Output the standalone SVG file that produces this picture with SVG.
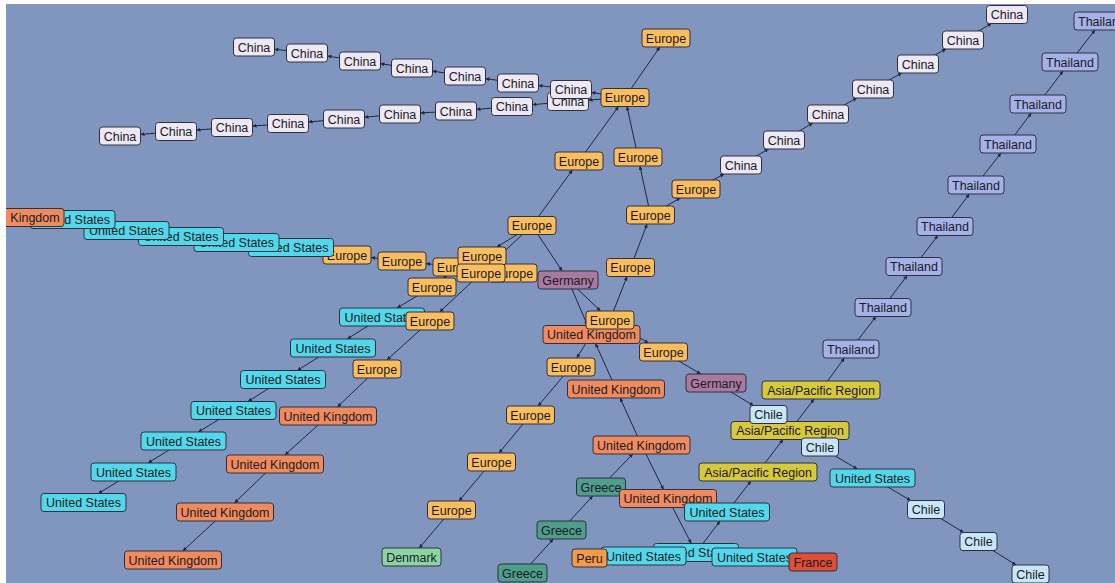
<svg xmlns="http://www.w3.org/2000/svg" width="1115" height="583" viewBox="0 0 1115 583">
<style>
.bg{fill:#8096be}
.node rect{stroke:#2e3040;stroke-width:1}
.node text{font-family:"Liberation Sans",Arial,sans-serif;font-size:12.5px;fill:#1a1a24;text-anchor:middle}
.china rect{fill:#eee8f5}
.europe rect{fill:#fbbe5f}
.us rect{fill:#52d8ea}
.uk rect{fill:#ef8b5f}
.germany rect{fill:#a97a9f}
.thai rect{fill:#a6b1e8}
.asia rect{fill:#d8c83c}
.chile rect{fill:#c8e6f8}
.greece rect{fill:#4f9d8b}
.denmark rect{fill:#8ad6a2}
.peru rect{fill:#f59a48}
.france rect{fill:#de4f35}
#edges line{stroke:#1e2640;stroke-width:1;marker-end:url(#ah)}
</style>
<defs>
<clipPath id="cv"><rect x="6" y="4" width="1109" height="579"/></clipPath>
<marker id="ah" viewBox="0 0 6 6" refX="6" refY="3" markerWidth="4" markerHeight="4" markerUnits="userSpaceOnUse" orient="auto"><path d="M0,0 L6,3 L0,6 z" fill="#1e2640"/></marker>
</defs>
<rect width="1115" height="583" fill="#ffffff"/>
<rect class="bg" x="6" y="4" width="1109" height="579"/>
<g clip-path="url(#cv)">
<g id="edges">
<line x1="625" y1="97.5" x2="591.5" y2="92.5"/>
<line x1="571" y1="89.5" x2="538.5" y2="85.5"/>
<line x1="518" y1="83" x2="485.5" y2="78.7"/>
<line x1="465" y1="76" x2="432.5" y2="71.1"/>
<line x1="412" y1="68" x2="380.5" y2="63.8"/>
<line x1="360" y1="61" x2="327.5" y2="56.1"/>
<line x1="307" y1="53" x2="274.5" y2="49.3"/>
<line x1="625" y1="97.5" x2="588.5" y2="100.1"/>
<line x1="568" y1="101.5" x2="532.5" y2="104.7"/>
<line x1="512" y1="106.5" x2="476.5" y2="109.4"/>
<line x1="456" y1="111" x2="420.5" y2="112.9"/>
<line x1="400" y1="114" x2="364.5" y2="117.2"/>
<line x1="344" y1="119" x2="308.5" y2="121.9"/>
<line x1="288" y1="123.5" x2="252.5" y2="126"/>
<line x1="232" y1="127.5" x2="196.5" y2="130"/>
<line x1="176" y1="131.5" x2="140.5" y2="134.4"/>
<line x1="625" y1="97.5" x2="659.8" y2="47"/>
<line x1="579" y1="161" x2="618.5" y2="106.5"/>
<line x1="638" y1="157" x2="627" y2="106.5"/>
<line x1="650.5" y1="215" x2="639.9" y2="166"/>
<line x1="630.5" y1="267.5" x2="647.1" y2="224"/>
<line x1="610" y1="320" x2="627" y2="276.5"/>
<line x1="650.5" y1="215" x2="680.3" y2="198"/>
<line x1="696" y1="189" x2="724.1" y2="174"/>
<line x1="741" y1="165" x2="768.5" y2="149"/>
<line x1="784" y1="140" x2="812.8" y2="123"/>
<line x1="828" y1="114" x2="856.8" y2="98"/>
<line x1="873" y1="89" x2="901.8" y2="73"/>
<line x1="918" y1="64" x2="946.1" y2="49"/>
<line x1="963" y1="40" x2="991.5" y2="23.5"/>
<line x1="532" y1="225.5" x2="572.4" y2="170"/>
<line x1="532" y1="225.5" x2="496.8" y2="247"/>
<line x1="532" y1="225.5" x2="562.1" y2="271"/>
<line x1="532" y1="225.5" x2="439.6" y2="312"/>
<line x1="430" y1="321" x2="386.9" y2="360"/>
<line x1="377" y1="369" x2="337.4" y2="407"/>
<line x1="328" y1="416" x2="284.9" y2="455"/>
<line x1="275" y1="464" x2="234.4" y2="503"/>
<line x1="225" y1="512" x2="182.75" y2="551"/>
<line x1="432" y1="287" x2="397" y2="308"/>
<line x1="382" y1="317" x2="347.2" y2="339"/>
<line x1="333" y1="348" x2="297.3" y2="370.5"/>
<line x1="283" y1="379.5" x2="247.9" y2="401.5"/>
<line x1="233.5" y1="410.5" x2="198.3" y2="432"/>
<line x1="183.5" y1="441" x2="148" y2="463"/>
<line x1="133.5" y1="472" x2="98.3" y2="493.5"/>
<line x1="482" y1="256" x2="477.5" y2="258"/>
<line x1="457" y1="267" x2="426" y2="263.6"/>
<line x1="402" y1="261" x2="371" y2="257.6"/>
<line x1="347" y1="255" x2="333.5" y2="253.2"/>
<line x1="291" y1="247.5" x2="279" y2="246.4"/>
<line x1="236.5" y1="242.5" x2="223.5" y2="241.1"/>
<line x1="181" y1="236.5" x2="169" y2="235.2"/>
<line x1="126.5" y1="230.5" x2="115" y2="228.2"/>
<line x1="72.5" y1="219.5" x2="64" y2="219.1"/>
<line x1="457" y1="267" x2="443.25" y2="278"/>
<line x1="482" y1="256" x2="481.5" y2="264"/>
<line x1="481" y1="273" x2="489" y2="273"/>
<line x1="568" y1="280" x2="600.6" y2="311"/>
<line x1="568" y1="280" x2="587.6" y2="325.5"/>
<line x1="610" y1="320" x2="648.5" y2="343"/>
<line x1="663.5" y1="352" x2="700.8" y2="374"/>
<line x1="716" y1="383" x2="753.5" y2="405.5"/>
<line x1="768.5" y1="414.5" x2="805.7" y2="438"/>
<line x1="820" y1="447" x2="857.3" y2="469"/>
<line x1="872.5" y1="478" x2="910.7" y2="500.5"/>
<line x1="926" y1="509.5" x2="963.7" y2="532.5"/>
<line x1="978.5" y1="541.5" x2="1016.1" y2="565"/>
<line x1="851" y1="349" x2="876.1" y2="316.5"/>
<line x1="883" y1="307.5" x2="907.2" y2="275.5"/>
<line x1="914" y1="266.5" x2="938" y2="235.5"/>
<line x1="945" y1="226.5" x2="969.3" y2="194"/>
<line x1="976" y1="185" x2="1001" y2="153"/>
<line x1="1008" y1="144" x2="1031.25" y2="113"/>
<line x1="1038" y1="104" x2="1063.1" y2="71"/>
<line x1="1070" y1="62" x2="1095" y2="30"/>
<line x1="821" y1="390" x2="844.4" y2="358"/>
<line x1="790" y1="430.5" x2="814.1" y2="399"/>
<line x1="758" y1="472" x2="783.1" y2="439.5"/>
<line x1="727" y1="512" x2="751" y2="481"/>
<line x1="696" y1="552.5" x2="720.1" y2="521"/>
<line x1="591.5" y1="334.5" x2="576.7" y2="358"/>
<line x1="616" y1="389" x2="595.5" y2="343.5"/>
<line x1="641.5" y1="445" x2="620.1" y2="398"/>
<line x1="601" y1="487" x2="632.8" y2="454"/>
<line x1="641.5" y1="445" x2="663.5" y2="489.5"/>
<line x1="561.5" y1="530" x2="592.7" y2="496"/>
<line x1="522.5" y1="573" x2="553.3" y2="539"/>
<line x1="668" y1="498.5" x2="691.3" y2="543.5"/>
<line x1="571" y1="367" x2="538.1" y2="406"/>
<line x1="530.5" y1="415" x2="499" y2="453"/>
<line x1="491.5" y1="462" x2="459" y2="501"/>
<line x1="451.5" y1="510" x2="419.2" y2="548"/>
<line x1="696" y1="552.5" x2="686" y2="553.2"/>
<line x1="696" y1="552.5" x2="712" y2="553.7"/>
<line x1="643.5" y1="556" x2="607" y2="557.4"/>
<line x1="754.5" y1="557" x2="789" y2="560"/>
</g>
<g id="nodes">
<g id="c1" class="node china"><rect x="233.5" y="38" width="41" height="18" rx="3"/><text x="254" y="51.5">China</text></g>
<g id="c2" class="node china"><rect x="286.5" y="44" width="41" height="18" rx="3"/><text x="307" y="57.5">China</text></g>
<g id="c3" class="node china"><rect x="339.5" y="52" width="41" height="18" rx="3"/><text x="360" y="65.5">China</text></g>
<g id="c4" class="node china"><rect x="391.5" y="59" width="41" height="18" rx="3"/><text x="412" y="72.5">China</text></g>
<g id="c5" class="node china"><rect x="444.5" y="67" width="41" height="18" rx="3"/><text x="465" y="80.5">China</text></g>
<g id="c6" class="node china"><rect x="497.5" y="74" width="41" height="18" rx="3"/><text x="518" y="87.5">China</text></g>
<g id="d1" class="node china"><rect x="99.5" y="127" width="41" height="18" rx="3"/><text x="120" y="140.5">China</text></g>
<g id="d2" class="node china"><rect x="155.5" y="122.5" width="41" height="18" rx="3"/><text x="176" y="136">China</text></g>
<g id="d3" class="node china"><rect x="211.5" y="118.5" width="41" height="18" rx="3"/><text x="232" y="132">China</text></g>
<g id="d4" class="node china"><rect x="267.5" y="114.5" width="41" height="18" rx="3"/><text x="288" y="128">China</text></g>
<g id="d5" class="node china"><rect x="323.5" y="110" width="41" height="18" rx="3"/><text x="344" y="123.5">China</text></g>
<g id="d6" class="node china"><rect x="379.5" y="105" width="41" height="18" rx="3"/><text x="400" y="118.5">China</text></g>
<g id="d7" class="node china"><rect x="435.5" y="102" width="41" height="18" rx="3"/><text x="456" y="115.5">China</text></g>
<g id="d8" class="node china"><rect x="491.5" y="97.5" width="41" height="18" rx="3"/><text x="512" y="111">China</text></g>
<g id="d9" class="node china"><rect x="547.5" y="92.5" width="41" height="18" rx="3"/><text x="568" y="106">China</text></g>
<g id="c7" class="node china"><rect x="550.5" y="80.5" width="41" height="18" rx="3"/><text x="571" y="94">China</text></g>
<g id="r1" class="node china"><rect x="720.5" y="156" width="41" height="18" rx="3"/><text x="741" y="169.5">China</text></g>
<g id="r2" class="node china"><rect x="763.5" y="131" width="41" height="18" rx="3"/><text x="784" y="144.5">China</text></g>
<g id="r3" class="node china"><rect x="807.5" y="105" width="41" height="18" rx="3"/><text x="828" y="118.5">China</text></g>
<g id="r4" class="node china"><rect x="852.5" y="80" width="41" height="18" rx="3"/><text x="873" y="93.5">China</text></g>
<g id="r5" class="node china"><rect x="897.5" y="55" width="41" height="18" rx="3"/><text x="918" y="68.5">China</text></g>
<g id="r6" class="node china"><rect x="942.5" y="31" width="41" height="18" rx="3"/><text x="963" y="44.5">China</text></g>
<g id="r7" class="node china"><rect x="986.5" y="5.5" width="41" height="18" rx="3"/><text x="1007" y="19">China</text></g>
<g id="e_hub" class="node europe"><rect x="601" y="88.5" width="48" height="18" rx="3"/><text x="625" y="102">Europe</text></g>
<g id="e_top" class="node europe"><rect x="642" y="29" width="48" height="18" rx="3"/><text x="666" y="42.5">Europe</text></g>
<g id="e_a" class="node europe"><rect x="555" y="152" width="48" height="18" rx="3"/><text x="579" y="165.5">Europe</text></g>
<g id="e_b" class="node europe"><rect x="614" y="148" width="48" height="18" rx="3"/><text x="638" y="161.5">Europe</text></g>
<g id="e_c" class="node europe"><rect x="626.5" y="206" width="48" height="18" rx="3"/><text x="650.5" y="219.5">Europe</text></g>
<g id="e_d" class="node europe"><rect x="606.5" y="258.5" width="48" height="18" rx="3"/><text x="630.5" y="272">Europe</text></g>
<g id="e_f" class="node europe"><rect x="672" y="180" width="48" height="18" rx="3"/><text x="696" y="193.5">Europe</text></g>
<g id="e8" class="node europe"><rect x="508" y="216.5" width="48" height="18" rx="3"/><text x="532" y="230">Europe</text></g>
<g id="e1" class="node europe"><rect x="323" y="246" width="48" height="18" rx="3"/><text x="347" y="259.5">Europe</text></g>
<g id="u5" class="node us"><rect x="248.5" y="238.5" width="85" height="18" rx="3"/><text x="291" y="252">United States</text></g>
<g id="u4" class="node us"><rect x="194" y="233.5" width="85" height="18" rx="3"/><text x="236.5" y="247">United States</text></g>
<g id="u3" class="node us"><rect x="138.5" y="227.5" width="85" height="18" rx="3"/><text x="181" y="241">United States</text></g>
<g id="u2" class="node us"><rect x="84" y="221.5" width="85" height="18" rx="3"/><text x="126.5" y="235">United States</text></g>
<g id="u1" class="node us"><rect x="30" y="210.5" width="85" height="18" rx="3"/><text x="72.5" y="224">United States</text></g>
<g id="kingdom" class="node uk"><rect x="0" y="208.5" width="64" height="18" rx="3"/><text x="35" y="222">Kingdom</text></g>
<g id="e2" class="node europe"><rect x="378" y="252" width="48" height="18" rx="3"/><text x="402" y="265.5">Europe</text></g>
<g id="e3" class="node europe"><rect x="433" y="258" width="48" height="18" rx="3"/><text x="457" y="271.5">Europe</text></g>
<g id="e6" class="node europe"><rect x="489" y="264" width="48" height="18" rx="3"/><text x="513" y="277.5">Europe</text></g>
<g id="e4" class="node europe"><rect x="458" y="247" width="48" height="18" rx="3"/><text x="482" y="260.5">Europe</text></g>
<g id="e5" class="node europe"><rect x="457" y="264" width="48" height="18" rx="3"/><text x="481" y="277.5">Europe</text></g>
<g id="e7" class="node europe"><rect x="408" y="278" width="48" height="18" rx="3"/><text x="432" y="291.5">Europe</text></g>
<g id="g1" class="node germany"><rect x="538" y="271" width="60" height="18" rx="3"/><text x="568" y="284.5">Germany</text></g>
<g id="v1" class="node us"><rect x="339.5" y="308" width="85" height="18" rx="3"/><text x="382" y="321.5">United States</text></g>
<g id="e9" class="node europe"><rect x="406" y="312" width="48" height="18" rx="3"/><text x="430" y="325.5">Europe</text></g>
<g id="v2" class="node us"><rect x="290.5" y="339" width="85" height="18" rx="3"/><text x="333" y="352.5">United States</text></g>
<g id="e10" class="node europe"><rect x="353" y="360" width="48" height="18" rx="3"/><text x="377" y="373.5">Europe</text></g>
<g id="v3" class="node us"><rect x="240.5" y="370.5" width="85" height="18" rx="3"/><text x="283" y="384">United States</text></g>
<g id="v4" class="node us"><rect x="191" y="401.5" width="85" height="18" rx="3"/><text x="233.5" y="415">United States</text></g>
<g id="v5" class="node us"><rect x="141" y="432" width="85" height="18" rx="3"/><text x="183.5" y="445.5">United States</text></g>
<g id="v6" class="node us"><rect x="91" y="463" width="85" height="18" rx="3"/><text x="133.5" y="476.5">United States</text></g>
<g id="v7" class="node us"><rect x="41" y="493.5" width="85" height="18" rx="3"/><text x="83.5" y="507">United States</text></g>
<g id="k1" class="node uk"><rect x="279.5" y="407" width="97" height="18" rx="3"/><text x="328" y="420.5">United Kingdom</text></g>
<g id="k2" class="node uk"><rect x="226.5" y="455" width="97" height="18" rx="3"/><text x="275" y="468.5">United Kingdom</text></g>
<g id="k3" class="node uk"><rect x="176.5" y="503" width="97" height="18" rx="3"/><text x="225" y="516.5">United Kingdom</text></g>
<g id="k4" class="node uk"><rect x="124.5" y="551" width="97" height="18" rx="3"/><text x="173" y="564.5">United Kingdom</text></g>
<g id="uk_c" class="node uk"><rect x="543" y="325.5" width="97" height="18" rx="3"/><text x="591.5" y="339">United Kingdom</text></g>
<g id="e_e" class="node europe"><rect x="586" y="311" width="48" height="18" rx="3"/><text x="610" y="324.5">Europe</text></g>
<g id="e_g" class="node europe"><rect x="639.5" y="343" width="48" height="18" rx="3"/><text x="663.5" y="356.5">Europe</text></g>
<g id="g2" class="node germany"><rect x="686" y="374" width="60" height="18" rx="3"/><text x="716" y="387.5">Germany</text></g>
<g id="e_h" class="node europe"><rect x="547" y="358" width="48" height="18" rx="3"/><text x="571" y="371.5">Europe</text></g>
<g id="uk_d" class="node uk"><rect x="567.5" y="380" width="97" height="18" rx="3"/><text x="616" y="393.5">United Kingdom</text></g>
<g id="e_i" class="node europe"><rect x="506.5" y="406" width="48" height="18" rx="3"/><text x="530.5" y="419.5">Europe</text></g>
<g id="e_j" class="node europe"><rect x="467.5" y="453" width="48" height="18" rx="3"/><text x="491.5" y="466.5">Europe</text></g>
<g id="e_k" class="node europe"><rect x="427.5" y="501" width="48" height="18" rx="3"/><text x="451.5" y="514.5">Europe</text></g>
<g id="denmark" class="node denmark"><rect x="382" y="548" width="59" height="18" rx="3"/><text x="411.5" y="561.5">Denmark</text></g>
<g id="uk_e" class="node uk"><rect x="593" y="436" width="97" height="18" rx="3"/><text x="641.5" y="449.5">United Kingdom</text></g>
<g id="gr1" class="node greece"><rect x="576.5" y="478" width="49" height="18" rx="3"/><text x="601" y="491.5">Greece</text></g>
<g id="uk_f" class="node uk"><rect x="619.5" y="489.5" width="97" height="18" rx="3"/><text x="668" y="503">United Kingdom</text></g>
<g id="gr2" class="node greece"><rect x="537" y="521" width="49" height="18" rx="3"/><text x="561.5" y="534.5">Greece</text></g>
<g id="gr3" class="node greece"><rect x="498" y="564" width="49" height="18" rx="3"/><text x="522.5" y="577.5">Greece</text></g>
<g id="t1" class="node thai"><rect x="1074" y="12" width="56" height="18" rx="3"/><text x="1102" y="25.5">Thailand</text></g>
<g id="t2" class="node thai"><rect x="1042" y="53" width="56" height="18" rx="3"/><text x="1070" y="66.5">Thailand</text></g>
<g id="t3" class="node thai"><rect x="1010" y="95" width="56" height="18" rx="3"/><text x="1038" y="108.5">Thailand</text></g>
<g id="t4" class="node thai"><rect x="980" y="135" width="56" height="18" rx="3"/><text x="1008" y="148.5">Thailand</text></g>
<g id="t5" class="node thai"><rect x="948" y="176" width="56" height="18" rx="3"/><text x="976" y="189.5">Thailand</text></g>
<g id="t6" class="node thai"><rect x="917" y="217.5" width="56" height="18" rx="3"/><text x="945" y="231">Thailand</text></g>
<g id="t7" class="node thai"><rect x="886" y="257.5" width="56" height="18" rx="3"/><text x="914" y="271">Thailand</text></g>
<g id="t8" class="node thai"><rect x="855" y="298.5" width="56" height="18" rx="3"/><text x="883" y="312">Thailand</text></g>
<g id="t9" class="node thai"><rect x="823" y="340" width="56" height="18" rx="3"/><text x="851" y="353.5">Thailand</text></g>
<g id="a1" class="node asia"><rect x="762" y="381" width="118" height="18" rx="3"/><text x="821" y="394.5">Asia/Pacific Region</text></g>
<g id="a2" class="node asia"><rect x="731" y="421.5" width="118" height="18" rx="3"/><text x="790" y="435">Asia/Pacific Region</text></g>
<g id="ch1" class="node chile"><rect x="750" y="405.5" width="37" height="18" rx="3"/><text x="768.5" y="419">Chile</text></g>
<g id="ch2" class="node chile"><rect x="801.5" y="438" width="37" height="18" rx="3"/><text x="820" y="451.5">Chile</text></g>
<g id="a3" class="node asia"><rect x="699" y="463" width="118" height="18" rx="3"/><text x="758" y="476.5">Asia/Pacific Region</text></g>
<g id="us_g" class="node us"><rect x="684.5" y="503" width="85" height="18" rx="3"/><text x="727" y="516.5">United States</text></g>
<g id="us_r" class="node us"><rect x="830" y="469" width="85" height="18" rx="3"/><text x="872.5" y="482.5">United States</text></g>
<g id="ch3" class="node chile"><rect x="907.5" y="500.5" width="37" height="18" rx="3"/><text x="926" y="514">Chile</text></g>
<g id="ch4" class="node chile"><rect x="960" y="532.5" width="37" height="18" rx="3"/><text x="978.5" y="546">Chile</text></g>
<g id="ch5" class="node chile"><rect x="1012" y="565" width="37" height="18" rx="3"/><text x="1030.5" y="578.5">Chile</text></g>
<g id="us_i" class="node us"><rect x="653.5" y="543.5" width="85" height="18" rx="3"/><text x="696" y="557">United States</text></g>
<g id="us_h" class="node us"><rect x="601" y="547" width="85" height="18" rx="3"/><text x="643.5" y="560.5">United States</text></g>
<g id="peru" class="node peru"><rect x="572" y="549" width="35" height="18" rx="3"/><text x="589.5" y="562.5">Peru</text></g>
<g id="us_j" class="node us"><rect x="712" y="548" width="85" height="18" rx="3"/><text x="754.5" y="561.5">United States</text></g>
<g id="france" class="node france"><rect x="789" y="553" width="48" height="18" rx="3"/><text x="813" y="566.5">France</text></g>
</g>
</g>
</svg>
